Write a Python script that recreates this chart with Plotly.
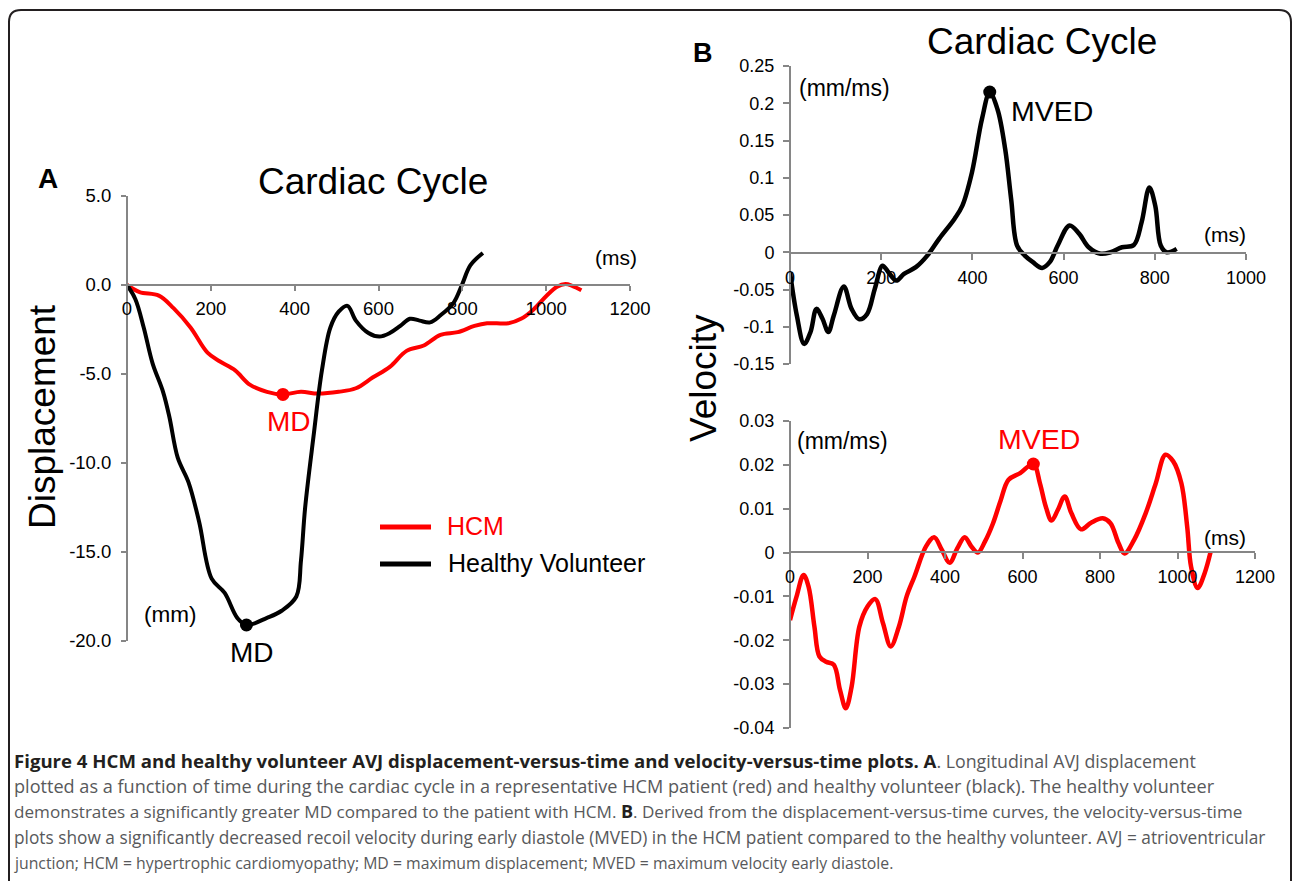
import plotly.graph_objects as go

W, H = 1293, 881

# ---------------- Data ----------------
# Panel A: displacement (mm) vs time (ms)
hcm_t = [0, 30, 76, 111, 152, 192, 222, 258, 293, 334, 372, 415, 455, 505, 546, 586, 627, 667,
         708, 748, 789, 829, 859, 910, 940, 970, 1001, 1026, 1046, 1062, 1084]
hcm_d = [0, -0.4, -0.6, -1.3, -2.4, -3.8, -4.3, -4.8, -5.6, -6.0, -6.15, -6.0, -6.1, -6.0, -5.8, -5.2,
         -4.6, -3.7, -3.4, -2.8, -2.65, -2.3, -2.15, -2.15, -1.9, -1.37, -0.6, -0.1, 0.05, -0.05, -0.3]
hv_t = [0, 20, 40, 61, 86, 101, 121, 147, 172, 202, 233, 263, 285, 334, 369, 404, 415, 425, 445,
        465, 485, 505, 526, 546, 576, 602, 627, 652, 675, 698, 723, 748, 779, 799, 819, 849]
hv_d = [0, -0.8, -2.4, -4.4, -6.0, -7.4, -9.7, -11.1, -13.3, -16.5, -17.3, -18.7, -19.1, -18.7, -18.3,
        -17.5, -15.5, -12.5, -8.5, -4.8, -2.4, -1.5, -1.17, -2.0, -2.7, -2.9, -2.7, -2.3, -1.9, -2.0,
        -2.1, -1.7, -1.0, 0.0, 1.1, 1.8]
md_hcm = (372, -6.15)
md_hv = (285, -19.1)

# Panel B top: healthy volunteer velocity (mm/ms)
vb_t = [0, 15, 31, 45, 58, 71, 84, 96, 118, 135, 152, 169, 186, 203, 216, 233, 250, 276, 301, 327,
        361, 378, 399, 421, 438, 455, 472, 485, 498, 515, 532, 553, 570, 587, 613, 634, 655, 681,
        703, 728, 754, 771, 788, 801, 813, 826, 848]
vb_v = [-0.027, -0.085, -0.123, -0.107, -0.076, -0.089, -0.107, -0.085, -0.046, -0.076, -0.090,
        -0.083, -0.049, -0.018, -0.027, -0.038, -0.029, -0.020, -0.0045, 0.018, 0.045, 0.0625,
        0.107, 0.179, 0.214, 0.192, 0.138, 0.071, 0.009, -0.0045, -0.013, -0.021, -0.013, 0.009,
        0.036, 0.025, 0.0067, -0.002, 0.0, 0.0067, 0.0098, 0.040, 0.087, 0.0625, 0.009, 0.0, 0.0045]
mved_hv = (438, 0.215)

# Panel B bottom: HCM velocity (mm/ms)
vr_t = [0, 17, 35, 48, 63, 76, 93, 113, 129, 144, 159, 179, 200, 220, 240, 260, 281, 301, 321, 351,
        372, 392, 412, 432, 451, 468, 485, 503, 524, 544, 564, 594, 628, 645, 660, 675, 691, 709,
        726, 751, 777, 807, 827, 848, 863, 888, 918, 944, 969, 989, 1010, 1025, 1035, 1052, 1070, 1085]
vr_v = [-0.0154, -0.0100, -0.0051, -0.0078, -0.0169, -0.0237, -0.0249, -0.0256, -0.0313, -0.0355,
        -0.0306, -0.0169, -0.0123, -0.0106, -0.0161, -0.0214, -0.0169, -0.0100, -0.0055, 0.0014,
        0.0035, 0.0006, -0.0023, 0.0010, 0.0035, 0.0014, 0.0, 0.0025, 0.0067, 0.0120, 0.0166,
        0.0181, 0.0202, 0.0158, 0.0105, 0.0073, 0.0097, 0.0128, 0.0090, 0.0053, 0.0068, 0.0078,
        0.0067, 0.0021, -0.0002, 0.0029, 0.0090, 0.0158, 0.0223, 0.0208, 0.0158, 0.0059, -0.0032,
        -0.0081, -0.0047, 0.0]
mved_hcm = (628, 0.0202)

# Tick labels
a_xticks = [0, 200, 400, 600, 800, 1000, 1200]
a_yticks = [5, 0, -5, -10, -15, -20]
a_ylabels = ["5.0", "0.0", "-5.0", "-10.0", "-15.0", "-20.0"]
bt_xticks = [0, 200, 400, 600, 800, 1000]
bt_yticks = [0.25, 0.2, 0.15, 0.1, 0.05, 0, -0.05, -0.1, -0.15]
bt_ylabels = ["0.25", "0.2", "0.15", "0.1", "0.05", "0", "-0.05", "-0.1", "-0.15"]
bb_xticks = [0, 200, 400, 600, 800, 1000, 1200]
bb_yticks = [0.03, 0.02, 0.01, 0, -0.01, -0.02, -0.03, -0.04]
bb_ylabels = ["0.03", "0.02", "0.01", "0", "-0.01", "-0.02", "-0.03", "-0.04"]

CAP_DARK = "#231f20"


def B(s, size):
    return f'<span style="font-size:{size}px;color:{CAP_DARK}"><b>{s}</b></span>'


caption_lines = [
    B("Figure 4 HCM and healthy volunteer AVJ displacement-versus-time and velocity-versus-time plots. A", 18.6)
    + ". Longitudinal AVJ displacement",
    "plotted as a function of time during the cardiac cycle in a representative HCM patient (red) and healthy volunteer (black). The healthy volunteer",
    "demonstrates a significantly greater MD compared to the patient with HCM. " + B("B", 18)
    + ". Derived from the displacement-versus-time curves, the velocity-versus-time",
    "plots show a significantly decreased recoil velocity during early diastole (MVED) in the HCM patient compared to the healthy volunteer. AVJ = atrioventricular",
    "junction; HCM = hypertrophic cardiomyopathy; MD = maximum displacement; MVED = maximum velocity early diastole.",
]
caption_sizes = [17.8, 18.1, 17.1, 17.3, 15.8]


# ---------------- helpers (page pixel -> paper) ----------------
def px(x):
    return x / W


def py(y):
    return 1 - y / H


RED = "#ff0000"
BLK = "#000000"
AX = "#868686"
FONT = "Liberation Sans, Arial, sans-serif"

fig = go.Figure()

fig.add_trace(go.Scatter(x=hcm_t, y=hcm_d, mode="lines", line=dict(color=RED, width=4, shape="spline"),
                         xaxis="x", yaxis="y", showlegend=False))
fig.add_trace(go.Scatter(x=hv_t, y=hv_d, mode="lines", line=dict(color=BLK, width=4, shape="spline"),
                         xaxis="x", yaxis="y", showlegend=False))
fig.add_trace(go.Scatter(x=[md_hcm[0]], y=[md_hcm[1]], mode="markers", marker=dict(color=RED, size=13),
                         xaxis="x", yaxis="y", showlegend=False))
fig.add_trace(go.Scatter(x=[md_hv[0]], y=[md_hv[1]], mode="markers", marker=dict(color=BLK, size=13),
                         xaxis="x", yaxis="y", showlegend=False))

fig.add_trace(go.Scatter(x=vb_t, y=vb_v, mode="lines", line=dict(color=BLK, width=4.5, shape="spline"),
                         xaxis="x2", yaxis="y2", showlegend=False))
fig.add_trace(go.Scatter(x=[mved_hv[0]], y=[mved_hv[1]], mode="markers", marker=dict(color=BLK, size=13),
                         xaxis="x2", yaxis="y2", showlegend=False))

fig.add_trace(go.Scatter(x=vr_t, y=vr_v, mode="lines", line=dict(color=RED, width=4.5, shape="spline"),
                         xaxis="x3", yaxis="y3", showlegend=False))
fig.add_trace(go.Scatter(x=[mved_hcm[0]], y=[mved_hcm[1]], mode="markers", marker=dict(color=RED, size=13),
                         xaxis="x3", yaxis="y3", showlegend=False))


def axis_style(size, ticklen, standoff):
    return dict(showgrid=False, zeroline=False, showline=True, linecolor=AX, linewidth=2,
                ticks="outside", ticklen=ticklen, tickcolor=AX, tickwidth=2,
                tickfont=dict(family=FONT, size=size, color="#000000"), anchor="free",
                automargin=False, ticklabelstandoff=standoff)


fig.update_layout(
    width=W, height=H, margin=dict(l=0, r=0, t=0, b=0, autoexpand=False),
    paper_bgcolor="white", plot_bgcolor="rgba(0,0,0,0)",
    xaxis=dict(axis_style(18.5, 5, 2), domain=[px(127), px(630)], range=[0, 1200], tickvals=a_xticks,
               position=py(285)),
    yaxis=dict(axis_style(18.5, 5, 6), domain=[py(641), py(196)], range=[-20, 5], tickvals=a_yticks,
               ticktext=a_ylabels, position=px(127)),
    xaxis2=dict(axis_style(18, 6, 2), domain=[px(790), px(1246)], range=[0, 1000], tickvals=bt_xticks,
                position=py(253)),
    yaxis2=dict(axis_style(18, 6, 5), domain=[py(364), py(66)], range=[-0.15, 0.25], tickvals=bt_yticks,
                ticktext=bt_ylabels, position=px(790)),
    xaxis3=dict(axis_style(18, 6, 2), domain=[px(790), px(1255)], range=[0, 1200], tickvals=bb_xticks,
                position=py(552)),
    yaxis3=dict(axis_style(18, 6, 5), domain=[py(728), py(421)], range=[-0.04, 0.03], tickvals=bb_yticks,
                ticktext=bb_ylabels, position=px(790)),
)

ann = []


def text(x, y, s, size, color="#000000", bold=False, xanchor="center", angle=0, family=FONT):
    ann.append(dict(x=px(x), y=py(y), xref="paper", yref="paper", text=(f"<b>{s}</b>" if bold else s),
                    showarrow=False, xanchor=xanchor, yanchor="middle", textangle=angle,
                    font=dict(family=family, size=size, color=color)))


text(48, 178, "A", 28, bold=True)
text(373, 181, "Cardiac Cycle", 37)
text(42, 417, "Displacement", 37, angle=-90)
text(616, 257, "(ms)", 21)
text(170, 614, "(mm)", 22.5)
text(289, 422, "MD", 28, color=RED)
text(252, 652, "MD", 28)
text(445, 526, "HCM", 25, color=RED, xanchor="left")
text(446, 563, "Healthy Volunteer", 25, xanchor="left")

text(703, 53, "B", 27, bold=True)
text(1042, 41, "Cardiac Cycle", 37)
text(703, 378, "Velocity", 37, angle=-90)
text(844, 88, "(mm/ms)", 23)
text(1052, 111, "MVED", 28.5)
text(1225, 234, "(ms)", 21)
text(842, 441, "(mm/ms)", 23)
text(1039, 439, "MVED", 28.5, color=RED)
text(1225, 537, "(ms)", 21)

cap_y = [760, 786, 811, 837, 863]
for yy, line, sz in zip(cap_y, caption_lines, caption_sizes):
    ann.append(dict(x=px(12), y=py(yy), xref="paper", yref="paper", text=line, showarrow=False,
                    xanchor="left", yanchor="middle",
                    font=dict(family="Open Sans, sans-serif", size=sz, color="#58595b")))

fig.update_layout(annotations=ann)

# legend swatches (paper-coordinate lines)
shapes = [
    dict(type="line", xref="paper", yref="paper", x0=px(380), x1=px(431), y0=py(527), y1=py(527),
         line=dict(color=RED, width=5)),
    dict(type="line", xref="paper", yref="paper", x0=px(380), x1=px(431), y0=py(564), y1=py(564),
         line=dict(color=BLK, width=5)),
]
# rounded frame
r = 12
xl, xr, yt, yb = 9, 1291, 10, 900
path = (f"M {px(xl)},{py(yb)} L {px(xl)},{py(yt + r)} Q {px(xl)},{py(yt)} {px(xl + r)},{py(yt)} "
        f"L {px(xr - r)},{py(yt)} Q {px(xr)},{py(yt)} {px(xr)},{py(yt + r)} L {px(xr)},{py(yb)}")
shapes.append(dict(type="path", xref="paper", yref="paper", path=path, line=dict(color=CAP_DARK, width=2)))
fig.update_layout(shapes=shapes)

fig.write_html(
    "out.html",
    config={"displayModeBar": False},
    post_script="document.body.style.margin='0';document.body.style.overflow='hidden';",
)
